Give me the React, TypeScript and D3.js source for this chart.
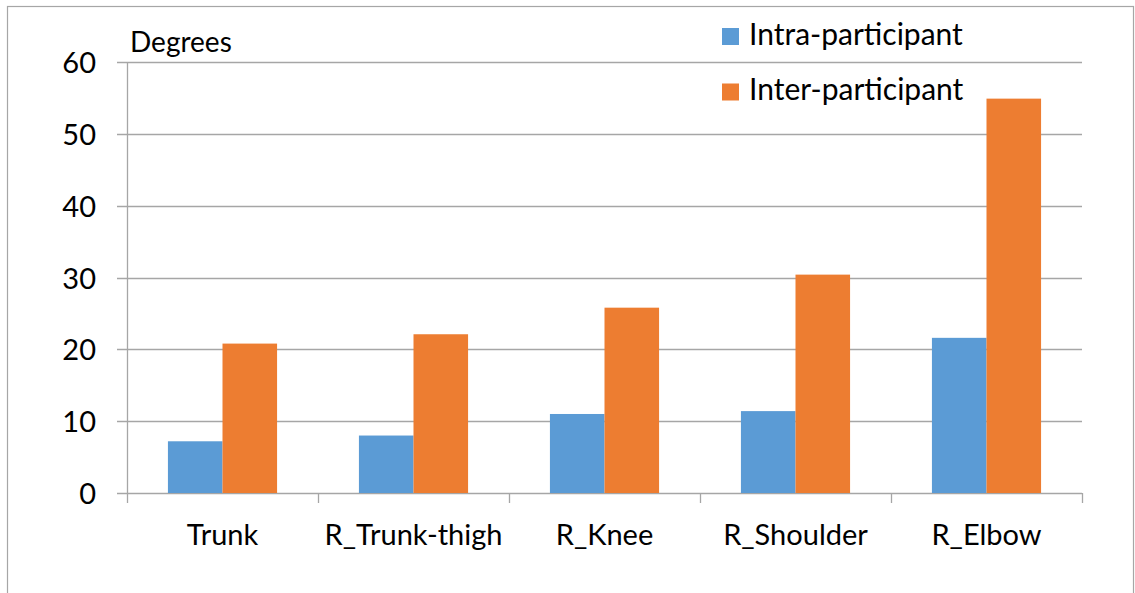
import React, { useEffect, useRef } from "react";
import * as d3 from "d3";

const categories = ["Trunk", "R_Trunk-thigh", "R_Knee", "R_Shoulder", "R_Elbow"];
const intraValues = [7.2, 8.0, 11.0, 11.4, 21.6];
const interValues = [20.8, 22.1, 25.8, 30.4, 54.9];
const seriesNames = ["Intra-participant", "Inter-participant"];
const seriesColors = ["#5B9BD5", "#ED7D31"];
const yTicks = [0, 10, 20, 30, 40, 50, 60];

const W = 1135;
const H = 593;
const FONT = "Lato, 'Open Sans', sans-serif";
const FS = "29px";

export default function App() {
  const ref = useRef<SVGSVGElement>(null);

  useEffect(() => {
    const svg = d3.select(ref.current);
    svg.selectAll("*").remove();

    // outer frame
    svg.append("rect")
      .attr("x", 7.5).attr("y", 6.5)
      .attr("width", W - 9).attr("height", H + 20)
      .attr("fill", "white").attr("stroke", "#a6a6a6").attr("stroke-width", 1.2);

    const left = 127, right = 1082, top = 62, bottom = 493;

    const x = d3.scaleBand().domain(categories).range([left, right]);
    const y = d3.scaleLinear().domain([0, 60]).range([bottom, top]);

    // gridlines + tick marks
    svg.append("g").selectAll("line")
      .data(yTicks).enter().append("line")
      .attr("x1", left - 10).attr("x2", right)
      .attr("y1", d => Math.round(y(d)) + 0.5).attr("y2", d => Math.round(y(d)) + 0.5)
      .attr("stroke", "#a6a6a6").attr("stroke-width", 1.3);

    // y axis line
    svg.append("line")
      .attr("x1", left + 0.5).attr("x2", left + 0.5)
      .attr("y1", top).attr("y2", bottom)
      .attr("stroke", "#a6a6a6").attr("stroke-width", 1.3);

    // x category ticks
    const edges = categories.map(c => x(c) as number).concat([right]);
    svg.append("g").selectAll("line")
      .data(edges).enter().append("line")
      .attr("x1", d => Math.round(d) + 0.5).attr("x2", d => Math.round(d) + 0.5)
      .attr("y1", bottom).attr("y2", bottom + 10)
      .attr("stroke", "#a6a6a6").attr("stroke-width", 1.3);

    // y labels
    svg.append("g").selectAll("text")
      .data(yTicks).enter().append("text")
      .attr("x", 96).attr("y", d => y(d) + 11)
      .attr("text-anchor", "end")
      .style("font-family", FONT).style("font-size", FS)
      .attr("fill", "#000")
      .text(d => d);

    svg.append("text")
      .attr("x", 130).attr("y", 52)
      .style("font-family", FONT).style("font-size", "28px")
      .text("Degrees");

    // bars
    const bw = x.bandwidth();
    const barW = bw * 0.2857;
    const series = [intraValues, interValues];
    series.forEach((vals, si) => {
      svg.append("g").selectAll("rect")
        .data(vals).enter().append("rect")
        .attr("x", (d, i) => (x(categories[i]) as number) + bw / 2 - barW + si * barW)
        .attr("y", d => y(d))
        .attr("width", barW)
        .attr("height", d => bottom - y(d))
        .attr("fill", seriesColors[si]);
    });

    // category labels
    svg.append("g").selectAll("text")
      .data(categories).enter().append("text")
      .attr("x", d => (x(d) as number) + bw / 2)
      .attr("y", 545)
      .attr("text-anchor", "middle")
      .style("font-family", FONT).style("font-size", FS)
      .text(d => d);

    // legend
    const legend = svg.append("g");
    seriesNames.forEach((name, i) => {
      legend.append("rect")
        .attr("x", 722).attr("y", 28 + i * 55.5)
        .attr("width", 17).attr("height", 17)
        .attr("fill", seriesColors[i]);
      legend.append("text")
        .attr("x", 749).attr("y", 44.5 + i * 55.5)
        .style("font-family", FONT).style("font-size", "30px")
        .text(name);
    });
  }, []);

  return (
    <svg ref={ref} width={W} height={H} style={{ position: "absolute", left: 0, top: 0 }} />
  );
}
